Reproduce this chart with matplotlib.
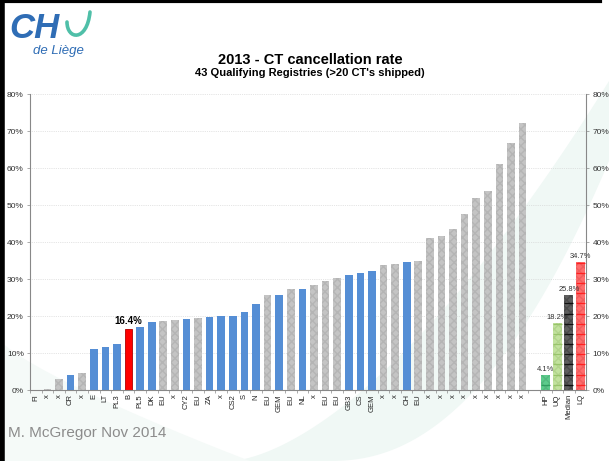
import numpy as np
import matplotlib
matplotlib.use("Agg")
import matplotlib.pyplot as plt
from matplotlib.patches import Polygon, PathPatch
from matplotlib.path import Path

plt.rcParams['font.family'] = ['Liberation Sans', 'DejaVu Sans']

# registries, sorted by rate
labels = ["FI", "x", "x", "CR", "x", "E", "LT", "PL3", "B", "PL5", "DK", "EU", "x",
          "CY2", "EU", "ZA", "x", "CS2", "S", "N", "EU", "GEM", "EU", "NL", "x", "EU",
          "EU", "GB3", "CS", "GEM", "x", "x", "CH", "EU", "x", "x", "x", "x", "x",
          "x", "x", "x", "x"]
rates = [0.0, 0.3, 3.0, 4.0, 4.6, 11.2, 11.7, 12.4, 16.4, 16.9, 18.3, 18.7, 18.8,
         19.3, 19.4, 19.8, 20.0, 20.0, 21.1, 23.2, 25.7, 25.8, 27.2, 27.3, 28.3, 29.6,
         30.4, 31.1, 31.6, 32.2, 33.7, 34.1, 34.6, 35.0, 41.1, 41.7, 43.6, 47.7, 51.8,
         53.9, 61.1, 66.8, 72.1]
# b = blue, g = grey (hatched), r = red
kind = ["g", "g", "g", "b", "g", "b", "b", "b", "r", "b", "b", "g", "g",
        "b", "g", "b", "b", "b", "b", "b", "g", "b", "g", "b", "g", "g",
        "g", "b", "b", "b", "g", "g", "b", "g", "g", "g", "g", "g", "g",
        "g", "g", "g", "g"]

sum_labels = ["HP", "UQ", "Median", "LQ"]
sum_values = [4.1, 18.2, 25.8, 34.7]

fig = plt.figure(figsize=(6.09, 4.61), dpi=100)

# faint background swoosh + frame + logo curve, in pixel coords
bg = fig.add_axes([0, 0, 1, 1], zorder=-5)
bg.set_xlim(0, 609)
bg.set_ylim(461, 0)
bg.axis("off")
t = np.linspace(0, 1, 60)
x1 = 230 + 379 * t
y1 = 461 - 380 * t ** 1.6
x2 = 330 + 279 * t
y2 = 461 - 300 * t ** 2.2
pts = np.vstack([np.column_stack([x1, y1]), np.column_stack([x2, y2])[::-1]])
bg.add_patch(Polygon(pts, closed=True, color="#f0f8f5", lw=0))
x3 = 0 + 250 * t
y3 = 340 + 121 * t ** 0.8
pts2 = np.vstack([np.column_stack([x3, y3]), [[0, 461]]])
bg.add_patch(Polygon(pts2, closed=True, color="#f5faf8", lw=0))
bg.plot([0, 600], [1.5, 1.5], color="black", lw=3)
bg.plot([2, 2], [0, 461], color="black", lw=4)

logo_u = Path([(67, 22), (67, 40), (87, 42), (90, 12)],
              [Path.MOVETO, Path.CURVE4, Path.CURVE4, Path.CURVE4])
fg = fig.add_axes([0, 0, 1, 1], zorder=5)
fg.set_xlim(0, 609)
fg.set_ylim(461, 0)
fg.axis("off")
fg.add_patch(PathPatch(logo_u, fill=False, edgecolor="#4fbfa8", lw=2.6,
                       capstyle="round"))

ax = fig.add_axes([0.0493, 0.154, 0.9135, 0.642])
ax.patch.set_alpha(0)

xs = np.arange(len(labels))
for x, v, k in zip(xs, rates, kind):
    if k == "g":
        ax.bar(x, v, width=0.66, color="#c4c4c4", edgecolor="#b5b5b5",
               hatch="xxxx", lw=0, zorder=2)
    elif k == "r":
        ax.bar(x, v, width=0.66, color="#ff0000", edgecolor="#b00000", lw=0.6, zorder=2)
    else:
        ax.bar(x, v, width=0.66, color="#558ed5", lw=0, zorder=2)

i_b = labels.index("B")
ax.text(xs[i_b], rates[i_b] + 0.8, "16.4%", ha="center", va="bottom",
        fontsize=7, fontweight="bold")

sx = np.arange(len(labels) + 1, len(labels) + 1 + len(sum_values))
sum_face = ["#5ccb8c", "#c2e29e", "#5e5e5e", "#ff6d6d"]
sum_hatch = ["#52b87e", "#b2d48c", "#4a4a4a", "#f05e5e"]
sum_line = ["#2f9e60", "#98c46a", "#111111", "#ff2020"]
for x, v, fc, hc, lc in zip(sx, sum_values, sum_face, sum_hatch, sum_line):
    ax.bar(x, v, width=0.78, color=fc, edgecolor=hc, hatch="xxxx", lw=0, zorder=2)
    seg = np.arange(1.4, v, 2.75)
    ax.hlines(seg, x - 0.39, x + 0.39, color=lc, lw=0.9, zorder=3)
    ax.text(x, v + 0.5, f"{v}%", ha="center", va="bottom", fontsize=5.4, color="#333333")

ax.set_xlim(-0.5, 47.5)
ax.set_ylim(0, 80)
ax.set_xticks(np.concatenate([xs, sx]))
ax.set_xticklabels(labels + sum_labels, rotation=90, fontsize=5.5, color="#222222")
ax.set_xticks(np.arange(-0.5, 47.5, 1), minor=True)
ax.tick_params(axis="x", which="major", length=0, pad=3)
ax.tick_params(axis="x", which="minor", length=2.5, width=0.5, color="#888888")
ax.set_yticks(np.arange(0, 81, 10))
ax.set_yticklabels([f"{v}%" for v in range(0, 81, 10)], fontsize=6, color="#333333")
ax.tick_params(axis="y", length=2.5, width=0.5, color="#888888", pad=2,
               left=True, right=True, labelleft=True, labelright=True)
ax.grid(axis="y", color="#cccccc", lw=0.5, ls=":", zorder=0)
for s in ["left", "right", "bottom"]:
    ax.spines[s].set_color("#888888")
    ax.spines[s].set_linewidth(0.8)
ax.spines["top"].set_visible(False)

fig.text(0.509, 0.861, "2013 - CT cancellation rate", ha="center", fontsize=10.5,
         fontweight="bold")
fig.text(0.509, 0.836, "43 Qualifying Registries (>20 CT's shipped)", ha="center",
         fontsize=8, fontweight="bold")

# logo text
fig.text(0.016, 0.918, "CH", fontsize=25, fontweight="bold", style="italic",
         color="#2f6db5")
fig.text(0.054, 0.883, "de Liège", fontsize=9.5, style="italic", color="#2f6db5")

fig.text(0.013, 0.052, "M. McGregor Nov 2014", fontsize=11, color="#8c8c8c")

fig.savefig("out.png", dpi=100)
